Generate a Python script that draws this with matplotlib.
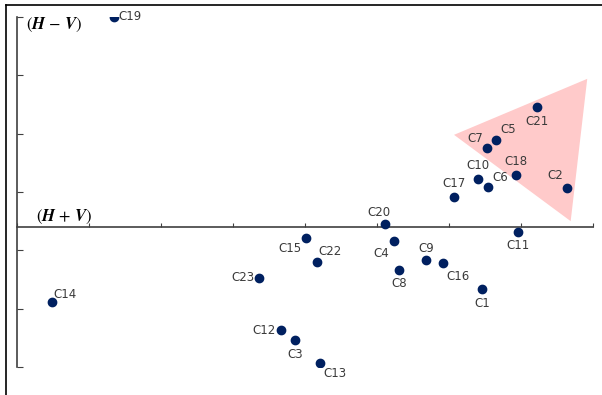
import matplotlib
matplotlib.use("Agg")
import matplotlib.pyplot as plt
from matplotlib.patches import Polygon
from matplotlib.lines import Line2D

# cluster positions on the (H+V) / (H-V) plane
names = ["C1", "C2", "C3", "C4", "C5", "C6", "C7", "C8", "C9", "C10", "C11", "C12",
         "C13", "C14", "C15", "C16", "C17", "C18", "C19", "C20", "C21", "C22", "C23"]
hv_sum = [6.46, 7.64, 3.86, 5.24, 6.65, 6.54, 6.53, 5.31, 5.68, 6.40, 6.96, 3.67,
          4.21, 0.49, 4.01, 5.92, 6.07, 6.93, 1.35, 5.11, 7.22, 4.17, 3.36]
hv_diff = [-1.06, 0.67, -1.94, -0.24, 1.49, 0.69, 1.36, -0.74, -0.57, 0.82, -0.09, -1.77,
           -2.33, -1.29, -0.19, -0.62, 0.51, 0.89, 3.60, 0.05, 2.06, -0.60, -0.87]

# highlighted region
tri_x = [6.07, 7.92, 7.69]
tri_y = [1.58, 2.54, 0.10]

# label offsets in points (dx, dy, ha, va)
offsets = {
    "C1": (0, -6, "center", "top"), "C2": (-3, 4, "right", "bottom"),
    "C3": (0, -6, "center", "top"), "C4": (-4, -4, "right", "top"),
    "C5": (3, 3, "left", "bottom"), "C6": (3, 2, "left", "bottom"),
    "C7": (-3, 2, "right", "bottom"), "C8": (0, -5, "center", "top"),
    "C9": (0, 4, "center", "bottom"), "C10": (0, 5, "center", "bottom"),
    "C11": (0, -5, "center", "top"), "C12": (-4, 0, "right", "center"),
    "C13": (2, -3, "left", "top"), "C14": (1, 1, "left", "bottom"),
    "C15": (-3, -3, "right", "top"), "C16": (2, -5, "left", "top"),
    "C17": (0, 5, "center", "bottom"), "C18": (0, 5, "center", "bottom"),
    "C19": (3, 0, "left", "center"), "C20": (-4, 4, "center", "bottom"),
    "C21": (0, -6, "center", "top"), "C22": (1, 3, "left", "bottom"),
    "C23": (-3, 0, "right", "center"),
}

plt.rcParams["mathtext.fontset"] = "stix"

fig = plt.figure(figsize=(6.02, 3.95), dpi=100)
ax = fig.add_axes([17 / 602, 28 / 395, 576 / 602, 350 / 395])

ax.add_patch(Polygon(list(zip(tri_x, tri_y)), closed=True, facecolor="#ffcaca",
                     edgecolor="none", zorder=1))
ax.scatter(hv_sum, hv_diff, s=36, color="#002060", zorder=3)

for n, x, y in zip(names, hv_sum, hv_diff):
    dx, dy, ha, va = offsets[n]
    ax.annotate(n, (x, y), xytext=(dx, dy), textcoords="offset points",
                ha=ha, va=va, fontsize=8.5, color="#3a3a3a", zorder=4)

ax.set_xlim(0, 8)
ax.set_ylim(-2.4, 3.6)
ax.set_xticks(range(0, 9))
ax.set_yticks([-2.4, -1.4, -0.4, 0.6, 1.6, 2.6, 3.6])
ax.set_xticklabels([])
ax.set_yticklabels([])
ax.spines["top"].set_visible(False)
ax.spines["right"].set_visible(False)
ax.spines["bottom"].set_position(("data", 0))
for s in ("left", "bottom"):
    ax.spines[s].set_color("#404040")
    ax.spines[s].set_linewidth(1.2)
ax.tick_params(axis="x", direction="in", length=3, color="#404040")
ax.tick_params(axis="y", direction="in", length=4, color="#404040")

ax.text(0.13, 3.46, r"$(\mathbfit{H}\,-\,\mathbfit{V})$", fontsize=12, va="center")
ax.text(0.27, 0.18, r"$(\mathbfit{H}\,+\,\mathbfit{V})$", fontsize=12, va="center")

# frame lines on the top and left edges of the picture
fig.add_artist(Line2D([6 / 602, 1], [390 / 395, 390 / 395], color="black", lw=1.2))
fig.add_artist(Line2D([6 / 602, 6 / 602], [0, 390 / 395], color="black", lw=1.2))

fig.savefig("out.png", dpi=100)
